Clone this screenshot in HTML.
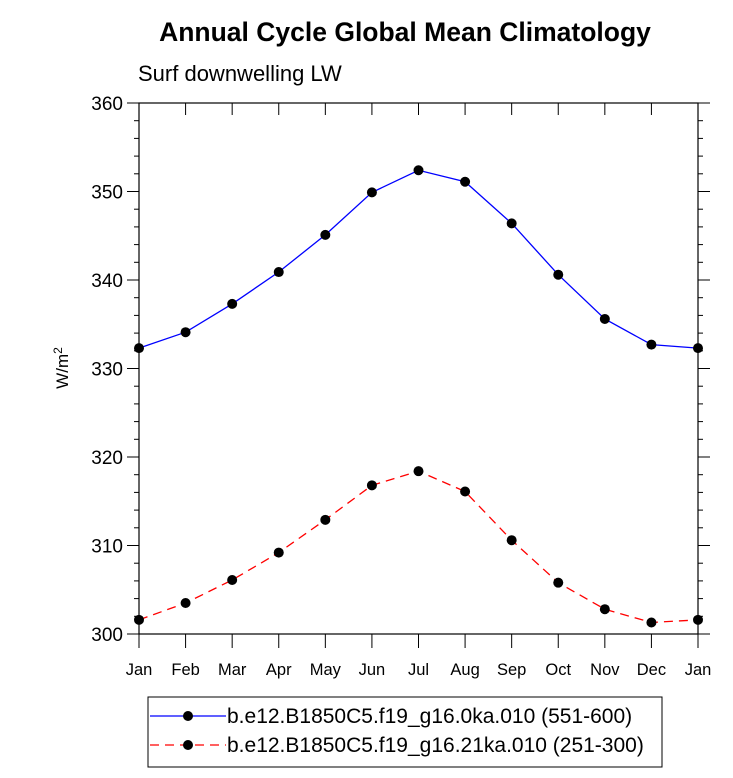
<!DOCTYPE html>
<html><head><meta charset="utf-8"><style>
body{margin:0;background:#fff;font-family:"Liberation Sans",sans-serif}
</style></head><body>
<svg id="chart" width="733" height="773" xmlns="http://www.w3.org/2000/svg" font-family="Liberation Sans, sans-serif">
<text x="405" y="41" text-anchor="middle" font-size="26.5" font-weight="bold">Annual Cycle Global Mean Climatology</text>
<text x="138" y="81" font-size="22">Surf downwelling LW</text>
<text transform="translate(68,368) rotate(-90)" text-anchor="middle" font-size="17">W/m<tspan dy="-6" font-size="12">2</tspan></text>
<g id="axes"></g>
<g id="series"></g>
<g>
<rect x="148" y="697" width="514" height="70" fill="none" stroke="#000" stroke-width="1"/>
<line x1="150" y1="716" x2="226" y2="716" stroke="#0000ff" stroke-width="1.3"/>
<circle cx="188" cy="716" r="5" fill="#000"/>
<text x="227" y="723" font-size="21">b.e12.B1850C5.f19_g16.0ka.010 (551-600)</text>
<line x1="150" y1="745" x2="226" y2="745" stroke="#ff0000" stroke-width="1.3" stroke-dasharray="9,6"/>
<circle cx="188" cy="745" r="5" fill="#000"/>
<text x="227" y="752" font-size="21">b.e12.B1850C5.f19_g16.21ka.010 (251-300)</text>
</g>
</svg>
<script>
const months=["Jan","Feb","Mar","Apr","May","Jun","Jul","Aug","Sep","Oct","Nov","Dec","Jan"];
const blueValues=[332.3,334.1,337.3,340.9,345.1,349.9,352.4,351.1,346.4,340.6,335.6,332.7,332.3];
const redValues=[301.6,303.5,306.1,309.2,312.9,316.8,318.4,316.1,310.6,305.8,302.8,301.3,301.6];
const yTicks=[300,310,320,330,340,350,360];
const NS="http://www.w3.org/2000/svg";
const L=139,R=698,T=103,B=634,ymin=300,ymax=360;
const xs=i=>L+(R-L)*i/(months.length-1);
const ys=v=>B-(B-T)*(v-ymin)/(ymax-ymin);
function mk(tag,attrs,parent){const e=document.createElementNS(NS,tag);for(const k in attrs)e.setAttribute(k,attrs[k]);parent.appendChild(e);return e;}
const ax=document.getElementById('axes');
const frame=mk('rect',{x:L,y:T,width:R-L,height:B-T,fill:'none',stroke:'#000','stroke-width':1.2},ax);


for(let v=ymin;v<=ymax;v+=2){
  const y=ys(v),maj=(v%10===0),len=maj?12:5;
  mk('line',{x1:L-len,y1:y,x2:L,y2:y,stroke:'#000'},ax);
  mk('line',{x1:R,y1:y,x2:R+len,y2:y,stroke:'#000'},ax);
}
yTicks.forEach(v=>{
  const t=mk('text',{x:L-16,y:ys(v)+7,'text-anchor':'end','font-size':19},ax);
  t.textContent=v;
  
  
});
months.forEach((m,i)=>{
  const x=xs(i);
  mk('line',{x1:x,y1:B,x2:x,y2:B+14,stroke:'#000'},ax);
  mk('line',{x1:x,y1:T,x2:x,y2:T+12,stroke:'#000'},ax);
  const t=mk('text',{x:x,y:B+41,'text-anchor':'middle','font-size':16.5},ax);
  t.textContent=m;
  
  
});
const sg=document.getElementById('series');
function drawSeries(vals,color,dash,name){
  const pts=vals.map((v,i)=>xs(i)+','+ys(v)).join(' ');
  const pl=mk('polyline',{points:pts,fill:'none',stroke:color,'stroke-width':1.3,'stroke-dasharray':dash},sg);
  
  
  vals.forEach((v,i)=>{
    const c=mk('circle',{cx:xs(i),cy:ys(v),r:5,fill:'#000'},sg);
    
    
  });
}
drawSeries(blueValues,'#0000ff','none','series-0ka');
drawSeries(redValues,'#ff0000','9,6','series-21ka');
</script>
</body></html>
